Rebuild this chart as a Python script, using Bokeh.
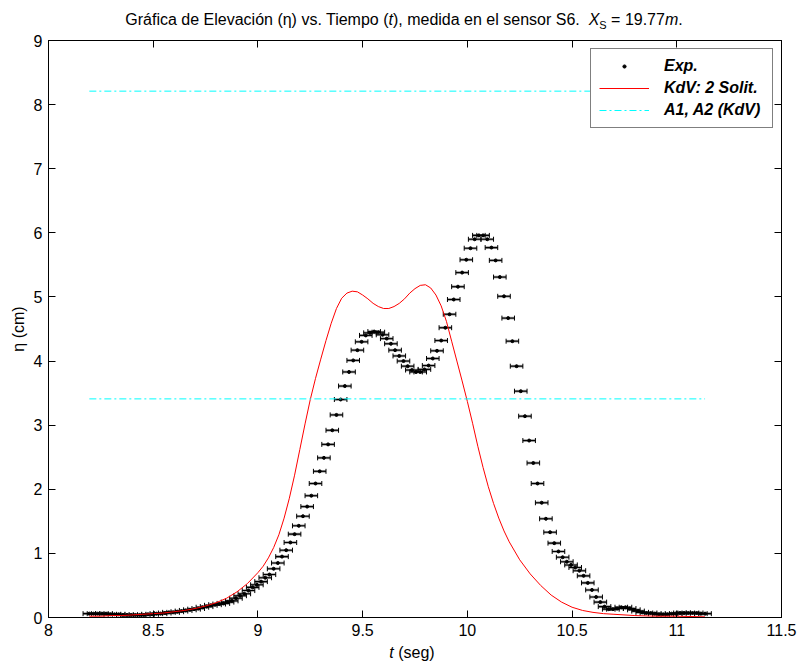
from bokeh.plotting import figure
from bokeh.models import (Range1d, LinearAxis, FixedTicker, Legend,
                          LegendItem, ColumnDataSource, Div)
from bokeh.layouts import column
from bokeh.embed import file_html
from bokeh.resources import INLINE
import math

FONT = "Liberation Sans"

# Measured surface elevation at sensor S6 (time in s, elevation in cm)
t_exp = [8.195, 8.215, 8.235, 8.255, 8.275, 8.295, 8.315, 8.335, 8.355, 8.375,
         8.395, 8.415, 8.435, 8.455, 8.475, 8.495, 8.515, 8.535, 8.555, 8.575,
         8.595, 8.615, 8.635, 8.655, 8.675, 8.695, 8.715, 8.735, 8.755, 8.775,
         8.795, 8.815, 8.835, 8.855, 8.875, 8.895, 8.915, 8.935, 8.955, 8.975,
         8.995, 9.015, 9.035, 9.055, 9.075, 9.095, 9.115, 9.135, 9.155, 9.175,
         9.195, 9.215, 9.235, 9.255, 9.275, 9.295, 9.315, 9.335, 9.355, 9.375,
         9.395, 9.415, 9.435, 9.455, 9.475, 9.495, 9.515, 9.535, 9.555, 9.575,
         9.595, 9.615, 9.635, 9.655, 9.675, 9.695, 9.715, 9.735, 9.755, 9.775,
         9.795, 9.815, 9.835, 9.855, 9.875, 9.895, 9.915, 9.935, 9.955, 9.975,
         9.995, 10.015, 10.035, 10.055, 10.075, 10.095, 10.115, 10.135, 10.155, 10.175,
         10.195, 10.215, 10.235, 10.255, 10.275, 10.295, 10.315, 10.335, 10.355, 10.375,
         10.395, 10.415, 10.435, 10.455, 10.475, 10.495, 10.515, 10.535, 10.555, 10.575,
         10.595, 10.615, 10.635, 10.655, 10.675, 10.695, 10.715, 10.735, 10.755, 10.775,
         10.795, 10.815, 10.835, 10.855, 10.875, 10.895, 10.915, 10.935, 10.955, 10.975,
         10.995, 11.015, 11.035, 11.055, 11.075, 11.095, 11.115, 11.135]
eta_exp = [0.06, 0.06, 0.06, 0.06, 0.06, 0.05, 0.05, 0.05, 0.04, 0.04,
           0.04, 0.04, 0.04, 0.04, 0.05, 0.05, 0.06, 0.06, 0.07, 0.08,
           0.08, 0.09, 0.10, 0.11, 0.12, 0.13, 0.14, 0.16, 0.17, 0.19,
           0.20, 0.21, 0.22, 0.24, 0.26, 0.30, 0.34, 0.37, 0.42, 0.47,
           0.51, 0.56, 0.62, 0.67, 0.76, 0.85, 0.95, 1.05, 1.17, 1.30,
           1.43, 1.58, 1.73, 1.90, 2.09, 2.28, 2.49, 2.70, 2.92, 3.16,
           3.40, 3.61, 3.83, 4.01, 4.17, 4.30, 4.40, 4.44, 4.46, 4.45,
           4.41, 4.35, 4.27, 4.17, 4.08, 4.00, 3.92, 3.86, 3.83, 3.83,
           3.87, 3.93, 4.04, 4.16, 4.32, 4.52, 4.73, 4.96, 5.16, 5.38,
           5.58, 5.76, 5.90, 5.96, 5.96, 5.90, 5.77, 5.57, 5.31, 5.01,
           4.67, 4.31, 3.92, 3.53, 3.14, 2.76, 2.41, 2.09, 1.79, 1.54,
           1.33, 1.16, 1.03, 0.94, 0.87, 0.82, 0.78, 0.73, 0.65, 0.54,
           0.43, 0.32, 0.24, 0.17, 0.13, 0.13, 0.14, 0.16, 0.16, 0.14,
           0.12, 0.10, 0.08, 0.07, 0.07, 0.06, 0.05, 0.05, 0.05, 0.06,
           0.06, 0.07, 0.07, 0.07, 0.07, 0.07, 0.06, 0.06]
t_err = 0.03  # timing uncertainty (s), drawn as horizontal bars

# Two-soliton KdV prediction
t_kdv = [8.195, 8.25, 8.30, 8.35, 8.40, 8.45, 8.50, 8.55, 8.60, 8.65,
         8.70, 8.75, 8.80, 8.85, 8.90, 8.95, 9.00, 9.025, 9.05, 9.075,
         9.10, 9.125, 9.15, 9.175, 9.20, 9.225, 9.25, 9.275, 9.30, 9.325,
         9.35, 9.375, 9.40, 9.425, 9.45, 9.475, 9.50, 9.525, 9.55, 9.575,
         9.60, 9.625, 9.65, 9.675, 9.70, 9.725, 9.75, 9.775, 9.80, 9.825,
         9.85, 9.875, 9.90, 9.925, 9.95, 9.975, 10.00, 10.025, 10.05, 10.075,
         10.10, 10.125, 10.15, 10.175, 10.20, 10.25, 10.30, 10.35, 10.40, 10.45,
         10.50, 10.55, 10.60, 10.65, 10.70, 10.80, 10.90, 11.00, 11.135]
eta_kdv = [0.02, 0.02, 0.03, 0.03, 0.04, 0.05, 0.06, 0.07, 0.09, 0.11,
           0.14, 0.18, 0.23, 0.30, 0.40, 0.53, 0.70, 0.80, 0.93, 1.09,
           1.29, 1.55, 1.86, 2.22, 2.62, 3.02, 3.40, 3.73, 4.03, 4.32,
           4.59, 4.82, 4.98, 5.06, 5.09, 5.08, 5.03, 4.97, 4.90, 4.85,
           4.82, 4.82, 4.85, 4.90, 4.97, 5.06, 5.13, 5.18, 5.19, 5.14,
           5.03, 4.86, 4.62, 4.31, 4.00, 3.69, 3.37, 3.03, 2.67, 2.34,
           2.04, 1.78, 1.55, 1.35, 1.18, 0.90, 0.68, 0.50, 0.35, 0.24,
           0.16, 0.11, 0.08, 0.06, 0.05, 0.03, 0.02, 0.02, 0.01]

# Soliton amplitudes from the KdV solution
A1 = 8.21
A2 = 3.41

x_ticks = [8, 8.5, 9, 9.5, 10, 10.5, 11, 11.5]
x_tick_labels = ["8", "8.5", "9", "9.5", "10", "10.5", "11", "11.5"]
y_ticks = [0, 1, 2, 3, 4, 5, 6, 7, 8, 9]
y_tick_labels = ["0", "1", "2", "3", "4", "5", "6", "7", "8", "9"]

p = figure(frame_width=733, frame_height=577,
           min_border_left=48, min_border_right=17,
           min_border_top=10, min_border_bottom=28,
           x_range=Range1d(8, 11.5), y_range=Range1d(0, 9),
           x_axis_location=None, y_axis_location=None,
           output_backend="svg", toolbar_location=None, tools="")
p.xgrid.visible = False
p.ygrid.visible = False
p.background_fill_color = "white"
p.border_fill_color = "white"
p.outline_line_color = "black"
p.outline_line_width = 1


def make_axis(ticks, labels, show_labels, axis_label=None):
    ax = LinearAxis(ticker=FixedTicker(ticks=ticks))
    ax.major_label_overrides = {tk: lb for tk, lb in zip(ticks, labels)}
    ax.major_tick_in = 7
    ax.major_tick_out = 0
    ax.minor_tick_line_color = None
    ax.axis_line_color = "black"
    ax.major_tick_line_color = "black"
    ax.major_label_text_font = FONT
    ax.major_label_text_color = "black"
    ax.major_label_text_font_size = "16px"
    if show_labels:
        ax.major_label_standoff = 6
    else:
        ax.major_label_text_color = None
        ax.major_label_standoff = 0
    if axis_label:
        ax.axis_label = axis_label
        ax.axis_label_text_font = FONT
        ax.axis_label_text_font_size = "16px"
        ax.axis_label_text_font_style = "normal"
        ax.axis_label_text_color = "black"
        ax.axis_label_standoff = 4
    return ax


p.add_layout(make_axis(x_ticks, x_tick_labels, True), "below")
p.add_layout(make_axis(y_ticks, y_tick_labels, True, "η (cm)"), "left")
top_ax = make_axis(x_ticks, x_tick_labels, False)
top_ax.major_label_overrides = {tk: "" for tk in x_ticks}
p.add_layout(top_ax, "above")
right_ax = make_axis(y_ticks, y_tick_labels, False)
right_ax.major_label_overrides = {tk: "" for tk in y_ticks}
p.add_layout(right_ax, "right")

src = ColumnDataSource(dict(
    t=t_exp, eta=eta_exp,
    lo=[t - t_err for t in t_exp], hi=[t + t_err for t in t_exp]))

# horizontal error bars with small end caps
p.segment(x0="lo", x1="hi", y0="eta", y1="eta", source=src,
          line_color="#9a9a9a", line_width=2.6)
p.segment(x0="lo", x1="hi", y0="eta", y1="eta", source=src,
          line_color="black", line_width=1.1)
p.scatter(x="lo", y="eta", marker="dash", angle=math.pi / 2, size=5,
          line_color="black", source=src)
p.scatter(x="hi", y="eta", marker="dash", angle=math.pi / 2, size=5,
          line_color="black", source=src)
dots = p.scatter(x="t", y="eta", marker="circle", size=3,
                 fill_color="black", line_color="black", line_width=1,
                 source=src)

kdv = p.line(t_kdv, eta_kdv, line_color="#ff0000", line_width=1)

amps = p.segment(x0=[t_exp[0], t_exp[0]], x1=[t_exp[-1], t_exp[-1]],
                 y0=[A1, A2], y1=[A1, A2],
                 line_color="#00ffff", line_width=1, line_dash="7 3 2 3")

legend = Legend(items=[LegendItem(label="Exp.", renderers=[dots]),
                       LegendItem(label="KdV: 2 Solit.", renderers=[kdv]),
                       LegendItem(label="A1, A2 (KdV)", renderers=[amps])],
                location="top_right")
legend.margin = 8
legend.padding = 8
legend.spacing = 4
legend.glyph_width = 50
legend.glyph_height = 8     # keeps the legend marker a small dot
legend.label_height = 17
legend.label_width = 100
legend.label_standoff = 15
legend.label_text_font = FONT
legend.label_text_font_size = "16px"
legend.label_text_font_style = "bold italic"
legend.label_text_color = "black"
legend.border_line_color = "black"
legend.border_line_width = 1
legend.background_fill_color = "white"
legend.background_fill_alpha = 1
p.add_layout(legend)

TEXT_CSS = ("font-family:'Liberation Sans',Arial,sans-serif;font-size:16px;"
            "color:black;white-space:nowrap;")

title = Div(
    text=(f'<div style="{TEXT_CSS}width:788px;margin-left:10px;'
          'text-align:center;line-height:20px;padding-top:10px;">'
          'Gráfica de Elevación (η) vs. Tiempo (<i>t</i>), medida en el '
          'sensor S6.&nbsp; <i>X</i><sub style="font-size:11px;'
          'vertical-align:-4px;line-height:0;">S</sub> = 19.77<i>m</i>.</div>'),
    width=798, height=30, margin=0)

xlabel = Div(
    text=(f'<div style="{TEXT_CSS}width:772px;margin-left:26px;'
          'text-align:center;line-height:16px;"><i>t</i> (seg)</div>'),
    width=798, height=21, margin=0)

page = column(title, p, xlabel, spacing=0)

open("out.html", "w").write(file_html(page, INLINE))
